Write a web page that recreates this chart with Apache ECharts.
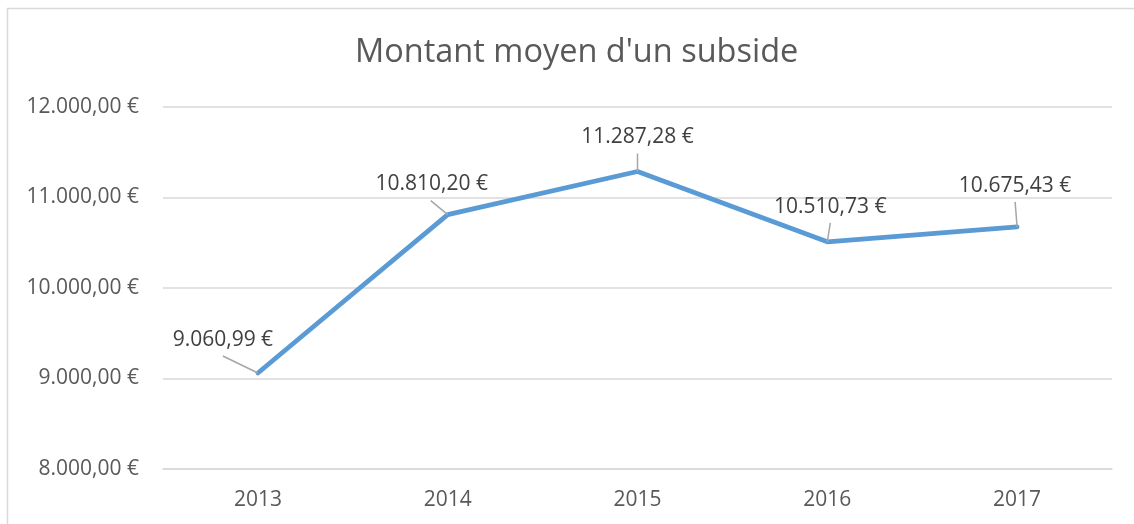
<!DOCTYPE html>
<html>
<head>
<meta charset="utf-8">
<script src="https://cdn.jsdelivr.net/npm/echarts@6/dist/echarts.min.js"></script>
<style>
  html, body { margin: 0; padding: 0; background: #fff; }
  #chart { width: 1134px; height: 524px; }
</style>
</head>
<body>
<div id="chart"></div>
<script>
const years = ['2013', '2014', '2015', '2016', '2017'];
const amounts = [9060.99, 10810.20, 11287.28, 10510.73, 10675.43];
// label nudges (dx, dy) per year, so the callouts sit off the line
const labelShift = [[-35, -17], [-16, -15], [0, -18], [3, -19], [-2, -25]];
// where each leader line starts, relative to its point (px)
const leaderStart = [[-35, -17], [-17, -14], [0, -18], [3, -19], [-2, -25]];

function euro(v) {
  const parts = Number(v).toFixed(2).split('.');
  const intPart = parts[0].replace(/\B(?=(\d{3})+(?!\d))/g, '.');
  return intPart + ',' + parts[1] + ' €';
}

const FONT = 'Open Sans';
const frame = {
  type: 'rect',
  shape: { x: 7.5, y: 8.5, width: 1200, height: 600 },
  style: { fill: 'none', stroke: '#d9d9d9', lineWidth: 1.5 },
  silent: true
};
const chart = echarts.init(document.getElementById('chart'));
chart.setOption({
  animation: false,
  graphic: [frame],
  title: {
    text: "Montant moyen d'un subside",
    left: 350,
    top: 31,
    textStyle: { fontFamily: FONT, fontSize: 32.5, fontWeight: 'normal', color: '#595959' }
  },
  grid: { left: 163, right: 22, top: 107, bottom: 55 },
  xAxis: {
    type: 'category',
    data: years,
    boundaryGap: true,
    axisLine: { show: true, lineStyle: { color: '#d9d9d9', width: 1.5 } },
    axisTick: { show: false },
    axisLabel: { fontFamily: FONT, fontSize: 21, color: '#595959', margin: 21 }
  },
  yAxis: {
    type: 'value',
    min: 8000,
    max: 12000,
    interval: 1000,
    axisLine: { show: false },
    axisTick: { show: false },
    splitLine: { lineStyle: { color: '#d9d9d9', width: 1.5 } },
    axisLabel: { fontFamily: FONT, fontSize: 21, color: '#595959', margin: 24, formatter: euro }
  },
  series: [{
    type: 'line',
    data: amounts,
    symbol: 'circle',
    symbolSize: 1,
    showSymbol: true,
    itemStyle: { color: 'rgba(0,0,0,0)' },
    lineStyle: { color: '#5b9bd5', width: 4.75, cap: 'round', join: 'round' },
    label: {
      show: true,
      position: 'top',
      distance: 5,
      fontFamily: FONT,
      fontSize: 21,
      color: '#404040',
      formatter: p => euro(p.value)
    },
    labelLayout: p => ({ dx: labelShift[p.dataIndex][0], dy: labelShift[p.dataIndex][1] })
  }]
});

// leader lines from each label down to its point, placed through the axes
const leaders = amounts.map((v, i) => {
  const [px, py] = chart.convertToPixel({ seriesIndex: 0 }, [i, v]);
  return {
    type: 'line',
    silent: true,
    z: 50,
    shape: { x1: px + leaderStart[i][0], y1: py + leaderStart[i][1], x2: px, y2: py },
    style: { stroke: '#a6a6a6', lineWidth: 1.5 }
  };
});
chart.setOption({ graphic: [frame].concat(leaders) }, { replaceMerge: ['graphic'] });
</script>
</body>
</html>
